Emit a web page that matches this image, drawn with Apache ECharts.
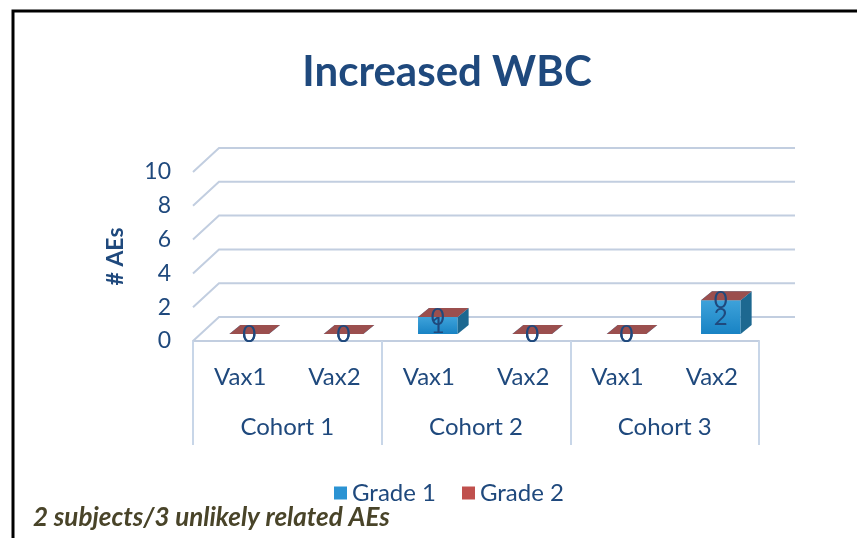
<!DOCTYPE html>
<html>
<head>
<meta charset="utf-8">
<script src="https://cdn.jsdelivr.net/npm/echarts@6/dist/echarts.min.js"></script>
<style>
  html, body { margin: 0; padding: 0; background: #fff; }
  #main { width: 857px; height: 538px; }
</style>
</head>
<body>
<div id="main"></div>
<script>
var vaxNames = ['Vax1', 'Vax2', 'Vax1', 'Vax2', 'Vax1', 'Vax2'];
var cohortNames = ['Cohort 1', 'Cohort 2', 'Cohort 3'];
var grade1 = [0, 0, 1, 0, 0, 2];
var grade2 = [0, 0, 0, 0, 0, 0];
var yTicks = [0, 2, 4, 6, 8, 10];

var textColor = '#1f497d';
var fontName = 'Lato';
// fake 3d offsets (px)
var wallDx = 26, wallDy = -24;
var barDx = 9, barDy = -7;
var boxDx = 11, boxDy = -9;

var chart = echarts.init(document.getElementById('main'));

function renderWall(params, api) {
  var cs = params.coordSys;
  var y = api.coord([0, api.value(1)])[1];
  var x0 = cs.x, x1 = cs.x + cs.width;
  return {
    type: 'polyline',
    shape: { points: [[x0, y], [x0 + wallDx, y + wallDy], [x1 + wallDx + 10, y + wallDy]] },
    style: { stroke: '#c2cee0', lineWidth: 2, fill: null }
  };
}

function boxRenderer(front, side, topColor) {
  return function (params, api) {
    var i = api.value(0);
    var pb = api.coord([i, api.value(1)]);
    var pt = api.coord([i, api.value(2)]);
    var hw = api.size([1, 0])[0] * 0.21;
    var cx = pb[0] + barDx, yb = pb[1] + barDy, yt = pt[1] + barDy;
    var xl = cx - hw, xr = cx + hw;
    var kids = [];
    if (yb - yt > 0.5) {
      kids.push({ type: 'rect', shape: { x: xl, y: yt, width: 2 * hw, height: yb - yt }, style: { fill: front } });
      kids.push({ type: 'polygon', shape: { points: [[xr, yt], [xr + boxDx, yt + boxDy], [xr + boxDx, yb + boxDy], [xr, yb]] }, style: { fill: side } });
    }
    kids.push({ type: 'polygon', shape: { points: [[xl, yt], [xl + boxDx, yt + boxDy], [xr + boxDx, yt + boxDy], [xr, yt]] }, style: { fill: topColor } });
    kids.push({
      type: 'text', z2: 10,
      style: { text: String(api.value(3)), x: cx, y: (yb + yt) / 2, align: 'center', verticalAlign: 'middle', fill: textColor, font: '24px ' + fontName }
    });
    return { type: 'group', children: kids };
  };
}

var g1Data = grade1.map(function (v, i) { return [i, 0, v, v]; });
var g2Data = grade2.map(function (v, i) { return [i, grade1[i], grade1[i] + v, v]; });

var blueFront = new echarts.graphic.LinearGradient(0, 0, 0, 1, [
  { offset: 0, color: '#3ea2da' }, { offset: 1, color: '#1883c4' }
]);

chart.setOption({
  animation: false,
  textStyle: { fontFamily: fontName },
  title: {
    text: 'Increased WBC', left: 442, textAlign: 'center', top: 46,
    textStyle: { fontSize: 42, fontWeight: 'bold', color: textColor, fontFamily: fontName }
  },
  legend: {
    left: 329, top: 476, itemWidth: 13, itemHeight: 13, itemGap: 26, icon: 'rect',
    textStyle: { fontSize: 24, color: textColor, fontFamily: fontName },
    data: ['Grade 1', 'Grade 2']
  },
  grid: { left: 193, right: 98, top: 172, bottom: 197 },
  xAxis: [{
    type: 'category', data: vaxNames,
    axisLine: { lineStyle: { color: '#c2cee0', width: 2 } },
    axisTick: { show: false },
    axisLabel: { margin: 24, fontSize: 24, color: textColor, fontFamily: fontName }
  }, {
    type: 'category', data: cohortNames, position: 'bottom',
    axisLine: { show: false },
    axisTick: { show: true, interval: 0, length: 104, lineStyle: { color: '#c8d6e8', width: 2 } },
    axisLabel: { margin: 74, fontSize: 24, color: textColor, fontFamily: fontName }
  }],
  yAxis: {
    type: 'value', min: 0, max: 10, interval: 2,
    name: '# AEs', nameLocation: 'middle', nameGap: 66,
    nameTextStyle: { fontSize: 23, fontWeight: 'bold', color: textColor, fontFamily: fontName },
    axisLine: { show: false }, axisTick: { show: false }, splitLine: { show: false },
    axisLabel: { margin: 22, fontSize: 23, color: textColor, fontFamily: fontName }
  },
  graphic: [
    { type: 'polyline', shape: { points: [[13, 538], [13, 11], [857, 11]] }, style: { stroke: '#000', lineWidth: 3, fill: null } },
    { type: 'text', left: 33, top: 505, style: { text: '2 subjects/3 unlikely related AEs', fill: '#494429', font: 'italic bold 26px ' + fontName } }
  ],
  series: [{
    type: 'custom', name: 'wall', z: 1, silent: true,
    data: yTicks.map(function (t) { return [0, t]; }),
    renderItem: renderWall
  }, {
    type: 'custom', name: 'Grade 1', z: 3,
    itemStyle: { color: '#2b93d3' },
    data: g1Data,
    renderItem: boxRenderer(blueFront, '#1d6890', '#3a9ad2')
  }, {
    type: 'custom', name: 'Grade 2', z: 4,
    itemStyle: { color: '#c0504d' },
    data: g2Data,
    renderItem: boxRenderer('#c0504d', '#8e3b39', '#9b4f4e')
  }]
});
</script>
</body>
</html>
